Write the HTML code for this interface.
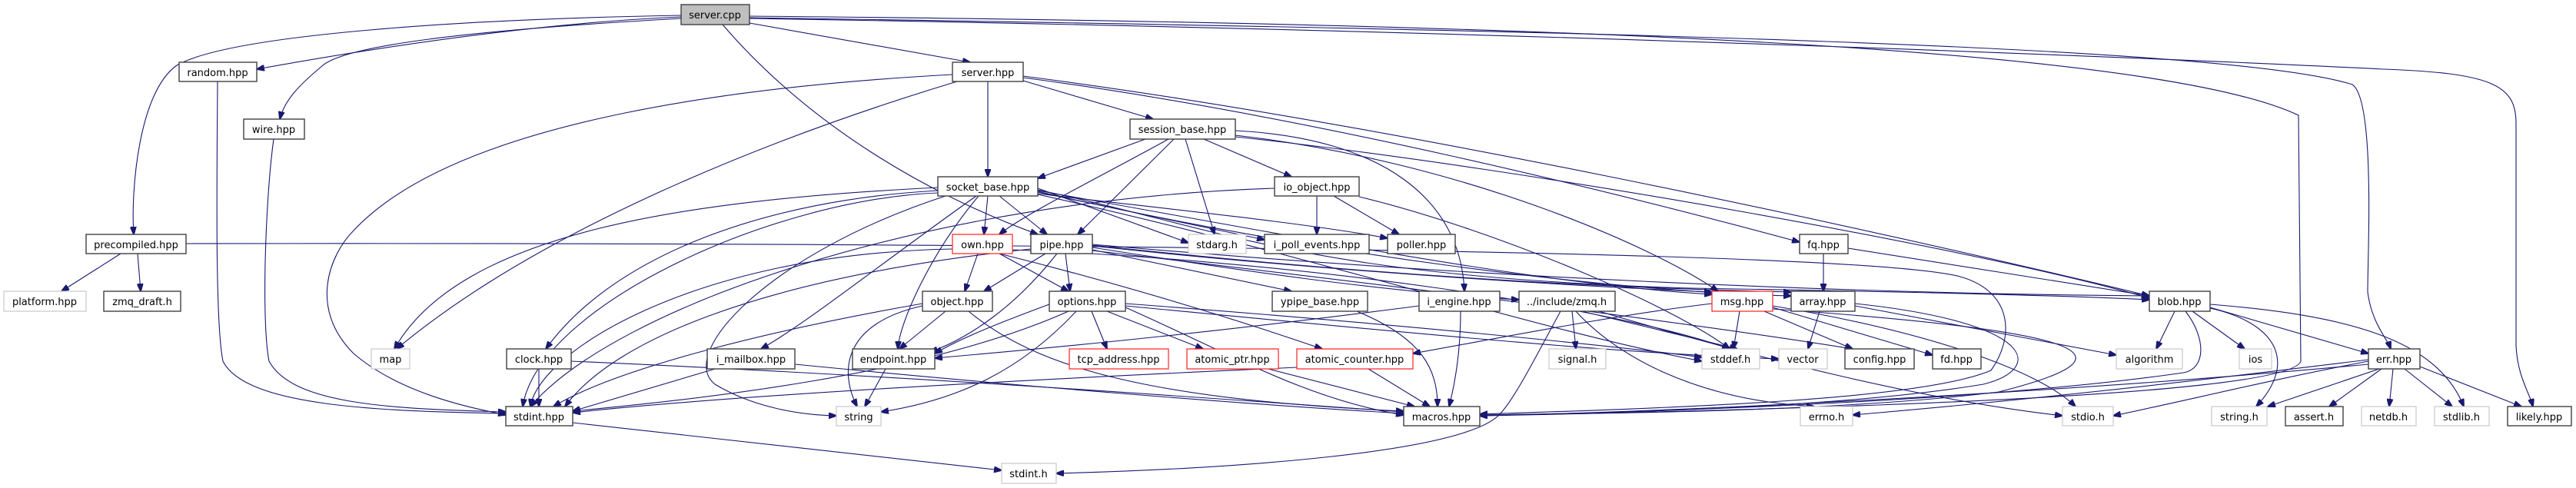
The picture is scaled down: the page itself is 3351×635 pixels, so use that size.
<!DOCTYPE html>
<html><head><meta charset="utf-8"><style>
html,body{margin:0;padding:0;background:#fff}
svg{display:block}
text{font-family:"DejaVu Sans","Liberation Sans",sans-serif;font-size:13px;fill:#000;text-anchor:middle}
.b{fill:#fff;stroke:#404040;stroke-width:1.4}
.g{fill:#fff;stroke:#c8c8c8;stroke-width:1.2}
.r{fill:#fff;stroke:#ff2020;stroke-width:1.2}
.s{fill:#bfbfbf;stroke:#404040;stroke-width:1.4}
path{fill:none;stroke:#191970;stroke-width:1.1}
</style></head><body>
<svg width="3351" height="635" viewBox="0 0 3351 635" xmlns="http://www.w3.org/2000/svg">
<defs><marker id="a" markerWidth="11" markerHeight="8" refX="10" refY="4" orient="auto" markerUnits="userSpaceOnUse"><path d="M0,0 L11,4 L0,8 Z" style="fill:#191970;stroke:#191970"/></marker></defs>
<g marker-end="url(#a)">
<path d="M886,22 C700,30 500,60 334,90"/>
<path d="M886,24 C600,40 450,60 420,85 C390,110 370,130 364,155"/>
<path d="M886,20 C600,25 300,45 230,85 C180,120 170,250 174,305"/>
<path d="M975,30 L1262,81"/>
<path d="M940,32 C1050,160 1200,250 1350,305"/>
<path d="M975,21 C2000,30 2800,60 2990,150 L2993,470 C2980,510 2500,530 1925,541"/>
<path d="M975,23 C2100,40 2900,60 3060,110 C3090,130 3080,330 3080,380 C3085,420 3105,440 3110,454"/>
<path d="M975,24 C2000,40 2900,80 3100,90 C3240,95 3273,110 3273,160 L3273,450 C3275,490 3290,510 3295,529"/>
<path d="M1285,106 L1285,230"/>
<path d="M1331,105 L1500,155"/>
<path d="M1239,97 C1000,110 600,150 460,300 C430,330 400,400 460,460 C530,520 640,535 658,540"/>
<path d="M1245,106 C1000,180 700,300 516,454"/>
<path d="M1331,101 C1700,150 2100,250 2341,315"/>
<path d="M1331,99 C1800,160 2400,290 2796,385"/>
<path d="M1490,181 L1350,232"/>
<path d="M1520,181 C1450,220 1330,280 1300,305"/>
<path d="M1527,181 L1402,305"/>
<path d="M1542,181 L1580,305"/>
<path d="M1566,181 L1680,230"/>
<path d="M1607,170 C1800,180 1900,260 1905,379"/>
<path d="M1607,176 C1900,210 2150,320 2235,379"/>
<path d="M1607,178 C2000,220 2600,330 2796,388"/>
<path d="M1285,255 L1280,305"/>
<path d="M1300,255 L1362,305"/>
<path d="M1350,245 L1546,316"/>
<path d="M1350,250 L1645,312"/>
<path d="M1350,252 C1500,270 1700,290 1805,310"/>
<path d="M1220,244 C900,260 600,300 513,454"/>
<path d="M1220,248 C1000,260 800,330 710,454"/>
<path d="M1270,255 C1150,340 1050,420 990,454"/>
<path d="M1273,255 C1210,330 1170,420 1168,454"/>
<path d="M1230,255 C1000,330 880,460 930,500 C980,530 1040,540 1088,541"/>
<path d="M1220,251 C1000,260 700,400 680,529"/>
<path d="M1350,247 C1600,300 1700,360 2200,375 C2500,380 2700,385 2796,390"/>
<path d="M1350,249 C1700,330 2100,380 2330,385"/>
<path d="M1350,248 C1700,310 2000,370 2227,383"/>
<path d="M1350,253 C1700,330 2000,430 2214,470"/>
<path d="M1713,255 L1713,305"/>
<path d="M1735,255 L1820,305"/>
<path d="M1658,245 C1200,260 800,400 690,529"/>
<path d="M1768,256 C1950,300 2180,400 2250,454"/>
<path d="M157,330 L80,379"/>
<path d="M179,330 L183,379"/>
<path d="M242,317 C1000,316 2400,320 2550,360 C2620,380 2620,440 2590,482 C2500,520 2200,530 1925,539"/>
<path d="M1272,330 L1255,379"/>
<path d="M1300,330 L1390,379"/>
<path d="M1300,330 C1500,380 1650,430 1720,454"/>
<path d="M1239,324 C900,330 700,460 690,529"/>
<path d="M1317,325 C1700,340 2100,400 2250,454"/>
<path d="M1360,330 L1280,379"/>
<path d="M1386,330 L1392,379"/>
<path d="M1375,330 C1320,400 1260,440 1210,458"/>
<path d="M1421,325 L1680,379"/>
<path d="M1421,322 C1600,350 1800,380 1976,390"/>
<path d="M1421,320 C1700,350 2000,370 2227,380"/>
<path d="M1421,319 C1800,360 2100,375 2330,380"/>
<path d="M1421,318 C1900,360 2400,382 2796,385"/>
<path d="M1341,324 C1000,360 800,440 735,529"/>
<path d="M1421,326 C1800,370 2200,420 2410,454"/>
<path d="M1230,405 L1170,454"/>
<path d="M1200,398 C1100,420 1090,480 1115,529"/>
<path d="M1200,395 C1000,430 800,480 720,529"/>
<path d="M1260,405 C1350,480 1500,520 1826,535"/>
<path d="M1365,396 C1300,420 1250,440 1216,460"/>
<path d="M1420,405 L1440,454"/>
<path d="M1440,405 L1565,454"/>
<path d="M1400,405 C1330,480 1250,520 1146,536"/>
<path d="M1390,405 C1200,490 900,520 745,535"/>
<path d="M1464,395 C1800,420 2100,450 2214,465"/>
<path d="M1464,398 C1800,430 2100,460 2314,467"/>
<path d="M1464,400 C1600,460 1700,520 1826,540"/>
<path d="M701,480 L701,529"/>
<path d="M743,470 C1200,490 1600,520 1826,536"/>
<path d="M930,480 L745,535"/>
<path d="M1034,474 C1300,500 1600,525 1826,538"/>
<path d="M1152,480 L1125,529"/>
<path d="M1780,480 L1860,529"/>
<path d="M1687,478 C1200,500 900,520 745,537"/>
<path d="M1650,480 L1840,529"/>
<path d="M1765,405 C1850,440 1870,480 1870,529"/>
<path d="M1900,405 C1900,450 1895,490 1885,529"/>
<path d="M1846,398 C1600,430 1400,450 1216,466"/>
<path d="M2045,405 L2050,454"/>
<path d="M2058,405 L2260,454"/>
<path d="M2050,405 C2100,460 2200,520 2360,529"/>
<path d="M2080,405 C2300,470 2500,520 2683,541"/>
<path d="M2030,405 C2000,460 1970,520 1950,540 C1900,590 1600,610 1374,616"/>
<path d="M2263,405 L2255,454"/>
<path d="M2295,405 L2410,454"/>
<path d="M2306,400 L2514,462"/>
<path d="M2227,395 C2100,410 1950,440 1838,460"/>
<path d="M2306,398 C2500,430 2650,480 2700,529"/>
<path d="M2306,402 C2700,430 2800,460 2600,510 C2400,535 2100,538 1925,540"/>
<path d="M2367,405 L2352,454"/>
<path d="M2413,398 L2753,462"/>
<path d="M2413,395 C2650,420 2660,480 2580,500 C2400,530 2100,538 1925,540"/>
<path d="M2372,330 L2372,379"/>
<path d="M2404,323 L2796,385"/>
<path d="M2829,405 L2805,454"/>
<path d="M2852,405 L2920,454"/>
<path d="M2875,400 L3081,460"/>
<path d="M2875,401 C2960,420 2990,470 2935,529"/>
<path d="M2875,396 C3050,410 3170,440 3205,529"/>
<path d="M2843,405 C2870,440 2870,480 2840,485 C2600,520 2200,535 1925,541"/>
<path d="M3081,468 C2900,490 2700,515 2410,540"/>
<path d="M3081,470 C2950,495 2850,520 2749,541"/>
<path d="M3095,480 L2950,529"/>
<path d="M3098,480 L3030,529"/>
<path d="M3113,480 L3108,529"/>
<path d="M3128,480 L3190,529"/>
<path d="M3148,477 L3280,529"/>
<path d="M3081,474 C2700,510 2200,535 1925,541"/>
<path d="M283,106 C282,250 280,420 290,470 C320,530 500,535 658,538"/>
<path d="M356,181 C345,260 340,420 350,470 C380,525 500,532 658,536"/>
<path d="M745,550 L1303,612"/>
</g>
<rect class="s" x="886" y="6" width="89" height="26"/><text x="930" y="24">server.cpp</text>
<rect class="b" x="233" y="81" width="101" height="25"/><text x="283" y="99">random.hpp</text>
<rect class="b" x="1239" y="81" width="92" height="25"/><text x="1285" y="99">server.hpp</text>
<rect class="b" x="317" y="155" width="79" height="26"/><text x="356" y="173">wire.hpp</text>
<rect class="b" x="1470" y="155" width="137" height="26"/><text x="1538" y="173">session_base.hpp</text>
<rect class="b" x="1220" y="230" width="130" height="25"/><text x="1285" y="248">socket_base.hpp</text>
<rect class="b" x="1658" y="230" width="110" height="25"/><text x="1713" y="248">io_object.hpp</text>
<rect class="b" x="112" y="305" width="130" height="25"/><text x="177" y="323">precompiled.hpp</text>
<rect class="r" x="1239" y="305" width="78" height="25"/><text x="1278" y="323">own.hpp</text>
<rect class="b" x="1341" y="305" width="80" height="25"/><text x="1381" y="323">pipe.hpp</text>
<rect class="g" x="1546" y="305" width="75" height="25"/><text x="1583" y="323">stdarg.h</text>
<rect class="b" x="1645" y="305" width="136" height="25"/><text x="1713" y="323">i_poll_events.hpp</text>
<rect class="b" x="1805" y="305" width="88" height="25"/><text x="1849" y="323">poller.hpp</text>
<rect class="b" x="2341" y="305" width="63" height="25"/><text x="2372" y="323">fq.hpp</text>
<rect class="g" x="5" y="379" width="107" height="26"/><text x="58" y="397">platform.hpp</text>
<rect class="b" x="135" y="379" width="100" height="26"/><text x="185" y="397">zmq_draft.h</text>
<rect class="b" x="1200" y="379" width="91" height="26"/><text x="1245" y="397">object.hpp</text>
<rect class="b" x="1365" y="379" width="99" height="26"/><text x="1414" y="397">options.hpp</text>
<rect class="b" x="1655" y="379" width="124" height="26"/><text x="1717" y="397">ypipe_base.hpp</text>
<rect class="b" x="1846" y="379" width="105" height="26"/><text x="1898" y="397">i_engine.hpp</text>
<rect class="b" x="1976" y="379" width="125" height="26"/><text x="2038" y="397">../include/zmq.h</text>
<rect class="r" x="2227" y="379" width="79" height="26"/><text x="2266" y="397">msg.hpp</text>
<rect class="b" x="2330" y="379" width="83" height="26"/><text x="2371" y="397">array.hpp</text>
<rect class="b" x="2796" y="379" width="79" height="26"/><text x="2835" y="397">blob.hpp</text>
<rect class="g" x="483" y="454" width="50" height="26"/><text x="508" y="472">map</text>
<rect class="b" x="659" y="454" width="84" height="26"/><text x="701" y="472">clock.hpp</text>
<rect class="b" x="920" y="454" width="114" height="26"/><text x="977" y="472">i_mailbox.hpp</text>
<rect class="b" x="1109" y="454" width="107" height="26"/><text x="1162" y="472">endpoint.hpp</text>
<rect class="r" x="1391" y="454" width="129" height="26"/><text x="1455" y="472">tcp_address.hpp</text>
<rect class="r" x="1544" y="454" width="119" height="26"/><text x="1603" y="472">atomic_ptr.hpp</text>
<rect class="r" x="1687" y="454" width="151" height="26"/><text x="1762" y="472">atomic_counter.hpp</text>
<rect class="g" x="2015" y="454" width="74" height="26"/><text x="2052" y="472">signal.h</text>
<rect class="g" x="2214" y="454" width="75" height="26"/><text x="2251" y="472">stddef.h</text>
<rect class="g" x="2314" y="454" width="63" height="26"/><text x="2345" y="472">vector</text>
<rect class="b" x="2400" y="454" width="90" height="26"/><text x="2445" y="472">config.hpp</text>
<rect class="b" x="2514" y="454" width="63" height="26"/><text x="2545" y="472">fd.hpp</text>
<rect class="g" x="2753" y="454" width="86" height="26"/><text x="2796" y="472">algorithm</text>
<rect class="g" x="2913" y="454" width="42" height="26"/><text x="2934" y="472">ios</text>
<rect class="b" x="3081" y="454" width="67" height="26"/><text x="3114" y="472">err.hpp</text>
<rect class="b" x="658" y="529" width="87" height="25"/><text x="701" y="547">stdint.hpp</text>
<rect class="g" x="1088" y="529" width="58" height="25"/><text x="1117" y="547">string</text>
<rect class="b" x="1826" y="529" width="99" height="25"/><text x="1875" y="547">macros.hpp</text>
<rect class="g" x="2342" y="529" width="68" height="25"/><text x="2376" y="547">errno.h</text>
<rect class="g" x="2683" y="529" width="66" height="25"/><text x="2716" y="547">stdio.h</text>
<rect class="g" x="2877" y="529" width="72" height="25"/><text x="2913" y="547">string.h</text>
<rect class="b" x="2973" y="529" width="75" height="25"/><text x="3010" y="547">assert.h</text>
<rect class="g" x="3072" y="529" width="71" height="25"/><text x="3107" y="547">netdb.h</text>
<rect class="g" x="3167" y="529" width="71" height="25"/><text x="3202" y="547">stdlib.h</text>
<rect class="b" x="3262" y="529" width="83" height="25"/><text x="3303" y="547">likely.hpp</text>
<rect class="g" x="1303" y="603" width="71" height="26"/><text x="1338" y="621">stdint.h</text>
</svg>
</body></html>
